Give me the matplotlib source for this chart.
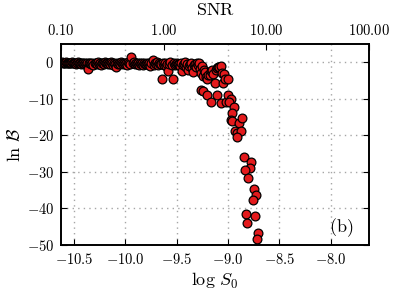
import matplotlib
matplotlib.use("Agg")
import matplotlib.pyplot as plt
from matplotlib.ticker import FuncFormatter, FixedLocator, NullLocator

plt.rcParams['mathtext.fontset'] = 'cm'
plt.rcParams['font.family'] = ['DejaVu Serif']

# log S0 values and ln B values
log_s0 = [
    -10.62, -10.61, -10.60, -10.59, -10.58, -10.57, -10.56, -10.55, -10.54, -10.53,
    -10.52, -10.51, -10.50, -10.49, -10.48, -10.47, -10.46, -10.45, -10.44, -10.43,
    -10.42, -10.41, -10.40, -10.39, -10.38, -10.37, -10.36, -10.365, -10.35, -10.34,
    -10.33, -10.32, -10.31, -10.30, -10.29, -10.28, -10.27, -10.26, -10.25, -10.24,
    -10.23, -10.22, -10.21, -10.20, -10.19, -10.18, -10.17, -10.16, -10.15, -10.14,
    -10.13, -10.12, -10.11, -10.10, -10.09, -10.08, -10.07, -10.06, -10.05, -10.04,
    -10.03, -10.02, -10.01, -10.00, -9.99, -9.98, -9.97, -9.96, -9.95, -9.94,
    -9.93, -9.92, -9.91, -9.90, -9.89, -9.88, -9.87, -9.86, -9.85, -9.84,
    -9.83, -9.82, -9.81, -9.80, -9.79, -9.78, -9.77, -9.76, -9.75, -9.73,
    -9.72, -9.71, -9.70, -9.69, -9.68, -9.67, -9.66, -9.65, -9.64, -9.63,
    -9.62, -9.61, -9.60, -9.59, -9.58, -9.57, -9.56, -9.55, -9.54, -9.53,
    -9.52, -9.51, -9.50, -9.49, -9.48, -9.47, -9.46, -9.45, -9.44, -9.43,
    -9.42, -9.41, -9.40, -9.39, -9.38, -9.37, -9.36, -9.35, -9.34, -9.33,
    -9.32, -9.31, -9.30, -9.29, -9.28, -9.27, -9.26, -9.25, -9.24, -9.23,
    -9.22, -9.21, -9.20, -9.19, -9.18, -9.17, -9.16, -9.15, -9.13, -9.12,
    -9.11, -9.10, -9.09, -9.07, -9.06, -9.05, -9.04, -9.03, -9.00,
    -9.26, -9.24, -9.20, -9.17, -9.11, -9.065, -9.02, -9.00, -8.97, -8.99,
    -8.94, -8.965, -8.975, -8.965, -8.89, -8.86, -8.935, -8.91, -8.87, -8.91,
    -8.84, -8.775, -8.79, -8.83, -8.805, -8.75, -8.73, -8.76, -8.82, -8.74,
    -8.815, -8.71, -8.72,
]
ln_b = [
    0.0, -0.2, -0.1, -0.3, 0.0, -0.2, -0.1, -0.3, -0.1, -0.2,
    0.1, -0.3, -0.2, -0.1, -0.4, -0.2, 0.0, -0.3, -0.1, -0.5,
    -0.2, -0.1, -0.4, -0.2, -0.6, -0.1, -1.2, -1.9, -0.3, -0.2,
    -0.5, -0.1, -0.8, -0.3, -0.2, -0.6, 0.0, -0.4, -0.2, -0.7,
    -0.1, -0.3, -0.5, 0.1, -0.3, -0.2, -0.6, -0.1, -0.4, 0.0,
    -0.3, -0.8, -0.2, -0.5, -1.2, -0.1, -0.4, -0.2, -0.6, 0.0,
    -0.3, -0.5, -0.1, -0.4, -0.2, -0.7, 0.1, -0.3, -0.5, 1.3,
    -0.2, 0.2, -0.4, -0.1, -0.6, -0.3, -0.8, -0.2, -0.5, -0.3,
    -0.7, -0.1, -0.4, -0.6, -0.2, -0.5, -0.3, -0.9, -0.1, 0.6,
    -0.7, -0.3, -0.5, 0.0, -0.8, -0.2, -0.4, -0.6, -4.7, -0.3,
    -0.7, -0.1, -0.9, -0.4, -2.3, -0.5, 0.0, -0.7, -4.7, -0.3,
    -0.8, -0.5, -0.2, -0.6, -0.4, -1.0, -0.3, -2.4, -0.8, -0.5,
    0.2, -1.3, -0.6, -2.1, -0.9, -0.4, -0.3, -1.5, -2.6, -0.8,
    -0.6, -1.2, -0.3, -0.7, -0.2, -1.8, -3.0, -1.1, -3.9, -2.2,
    -2.8, -4.1, -4.5, -3.6, -3.4, -2.5, -2.0, -3.2, -5.7, -2.0,
    -1.6, -1.2, -1.4, -1.1, -3.0, -5.6, -3.2, -4.6, -4.6,
    -7.5, -8.0, -8.9, -11.0, -9.0, -11.1, -10.8, -9.0, -10.0, -10.9,
    -12.2, -13.8, -15.7, -16.1, -16.5, -15.3, -18.9, -19.3, -18.9, -20.4,
    -25.9, -27.3, -29.0, -29.5, -31.8, -34.7, -36.4, -37.8, -41.4, -42.0,
    -43.9, -46.8, -48.3,
]

x_ticks = [-10.5, -10.0, -9.5, -9.0, -8.5, -8.0]
y_ticks = [0, -10, -20, -30, -40, -50]
snr_ticks = [0.1, 1.0, 10.0, 100.0]

fig = plt.figure(figsize=(3.99, 2.95), dpi=100)
ax = fig.add_axes([0.153, 0.1695, 0.772, 0.6815])

ax.grid(True, color='0.65', linestyle=(0, (1, 3)), linewidth=1.0)
ax.set_axisbelow(True)
ax.scatter(log_s0, ln_b, s=40, c='#e31a1c', edgecolors='black', linewidths=0.9, zorder=3)

ax.set_xlim(-10.626, -7.626)
ax.set_ylim(-50, 5)
ax.xaxis.set_major_locator(FixedLocator(x_ticks))
ax.yaxis.set_major_locator(FixedLocator(y_ticks))
ax.xaxis.set_major_formatter(FuncFormatter(lambda v, p: r'$%.1f$' % v))
ax.yaxis.set_major_formatter(FuncFormatter(lambda v, p: r'$%d$' % int(round(v))))
ax.tick_params(direction='in', length=4.5, width=0.8, labelsize=10.5, pad=5,
               top=False, right=True)
ax.set_xlabel(r'$\log\,S_0$', fontsize=13, labelpad=3)
ax.set_ylabel(r'$\ln\,\mathcal{B}$', fontsize=13, labelpad=2)
for s in ax.spines.values():
    s.set_linewidth(1.2)

ax.text(0.948, 0.03, r'$\mathrm{(b)}$', transform=ax.transAxes,
        ha='right', va='bottom', fontsize=13)

ax2 = ax.twiny()
ax2.set_xscale('log')
ax2.set_xlim(0.1, 100)
ax2.xaxis.set_major_locator(FixedLocator(snr_ticks))
ax2.xaxis.set_minor_locator(NullLocator())
ax2.xaxis.set_major_formatter(FuncFormatter(lambda v, p: r'$%.2f$' % v))
ax2.tick_params(direction='in', length=4.5, width=0.8, labelsize=10.5, pad=4)
ax2.set_xlabel(r'$\mathrm{SNR}$', fontsize=13, labelpad=6)
for s in ax2.spines.values():
    s.set_linewidth(1.2)

fig.savefig('out.png', dpi=100)
